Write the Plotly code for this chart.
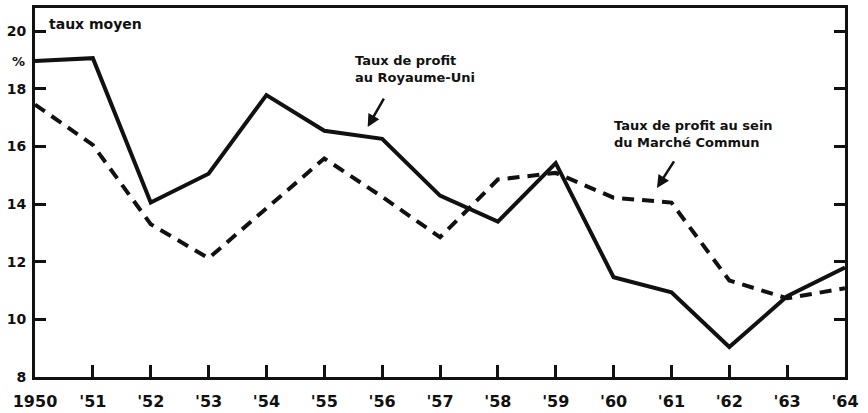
import plotly.graph_objects as go

years = list(range(1950, 1965))
tick_labels = ["1950", "'51", "'52", "'53", "'54", "'55", "'56", "'57", "'58", "'59",
               "'60", "'61", "'62", "'63", "'64"]
uk_rate = [18.96, 19.06, 14.05, 15.05, 17.78, 16.54, 16.26, 14.29, 13.39, 15.42,
           11.46, 10.94, 9.04, 10.8, 11.8]
cm_rate = [17.45, 16.05, 13.3, 12.12, 13.85, 15.58, 14.25, 12.85, 14.85, 15.08,
           14.22, 14.05, 11.35, 10.73, 11.08]
y_ticks = [8, 10, 12, 14, 16, 18, 20]

FONT = "DejaVu Sans"
INK = "#111111"

fig = go.Figure()
fig.add_trace(go.Scatter(x=years, y=uk_rate, mode="lines",
                         line=dict(color=INK, width=4), showlegend=False))
fig.add_trace(go.Scatter(x=years, y=cm_rate, mode="lines",
                         line=dict(color=INK, width=4, dash="12px,8px"), showlegend=False))

fig.update_layout(
    width=868, height=413,
    margin=dict(l=35, r=23, t=8, b=36),
    paper_bgcolor="white", plot_bgcolor="white",
    font=dict(family=FONT, color=INK),
    xaxis=dict(range=[1950, 1964], tickmode="array", tickvals=years, ticktext=tick_labels,
               ticks="inside", ticklen=12, tickwidth=2.5, tickcolor=INK,
               showline=True, linewidth=3, linecolor=INK, mirror=True,
               showgrid=False, zeroline=False, ticklabelstandoff=8, automargin=False,
               tickfont=dict(family=FONT, size=16, color=INK, weight="bold")),
    yaxis=dict(range=[8, 20.8], tickmode="array", tickvals=y_ticks,
               ticks="inside", ticklen=11, tickwidth=2.5, tickcolor=INK,
               showline=True, linewidth=3, linecolor=INK, mirror="ticks",
               showgrid=False, zeroline=False, ticklabelstandoff=3, automargin=False,
               tickfont=dict(family=FONT, size=14, color=INK, weight="bold")),
)

fig.add_annotation(x=1950.2, y=20.25, xref="x", yref="y", text="taux moyen",
                   showarrow=False, xanchor="left", yanchor="middle",
                   font=dict(family=FONT, size=14, color=INK, weight="bold"))
fig.add_annotation(x=1950, y=18.93, xref="x", yref="y", text="%",
                   showarrow=False, xanchor="right", yanchor="middle", xshift=-8,
                   font=dict(family=FONT, size=13, color=INK, weight="bold"))

fig.add_annotation(x=1955.5, y=18.67, xref="x", yref="y",
                   text="Taux de profit<br>au Royaume-Uni",
                   showarrow=False, xanchor="left", yanchor="middle", align="left",
                   font=dict(family=FONT, size=13, color=INK, weight="bold"))
fig.add_annotation(x=1955.75, y=16.67, xref="x", yref="y", text="",
                   showarrow=True, ax=17, ay=-30, arrowhead=2, arrowsize=1,
                   arrowwidth=2.5, arrowcolor=INK)

fig.add_annotation(x=1959.97, y=16.43, xref="x", yref="y",
                   text="Taux de profit au sein<br>du Marché Commun",
                   showarrow=False, xanchor="left", yanchor="middle", align="left",
                   font=dict(family=FONT, size=13, color=INK, weight="bold"))
fig.add_annotation(x=1960.75, y=14.56, xref="x", yref="y", text="",
                   showarrow=True, ax=18, ay=-28, arrowhead=2, arrowsize=1,
                   arrowwidth=2.5, arrowcolor=INK)

fig.write_html("out.html", config={"displayModeBar": False},
               post_script="document.body.style.margin='0';document.body.style.padding='0';")
